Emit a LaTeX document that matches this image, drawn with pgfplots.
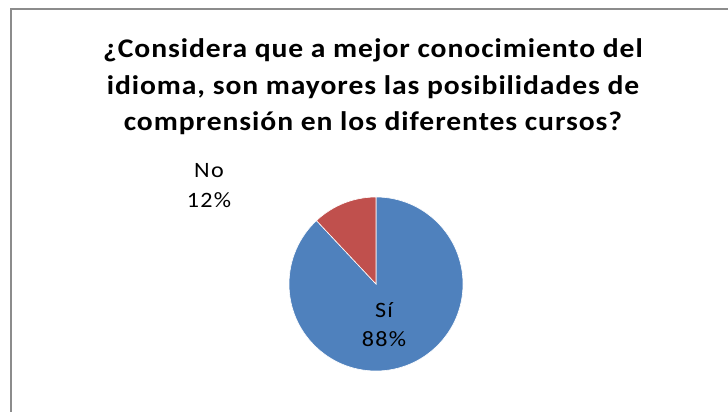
\documentclass[border=0pt]{standalone}
\usepackage{fontspec}
\setmainfont{Carlito}
\newfontfamily\titlefont[FakeStretch=1.1, LetterSpace=3.5]{Carlito}
\newfontfamily\labelfont[FakeStretch=1.1, LetterSpace=6]{Carlito}
\usepackage{pgfplots}
\usepackage{pgfplotstable}
\pgfplotsset{compat=1.18}
\definecolor{siblue}{HTML}{4F81BD}
\definecolor{nored}{HTML}{C0504D}
\definecolor{framegray}{HTML}{8C8C8C}

\pgfplotstableread[col sep=comma]{
label,value
Sí,88
No,12
}\piedata

% slice angles (Excel style: start at 12 o'clock, clockwise)
\pgfplotstablegetelem{0}{value}\of\piedata \let\valSi\pgfplotsretval
\pgfplotstablegetelem{1}{value}\of\piedata \let\valNo\pgfplotsretval
\pgfmathsetmacro\angSi{90-3.6*\valSi}
\pgfmathsetmacro\angNo{\angSi-3.6*\valNo}

\begin{document}
\begin{tikzpicture}
\begin{axis}[
  width=728bp, height=412bp, scale only axis,
  xmin=0, xmax=728, ymin=0, ymax=412,
  hide axis, clip=false,
]
\fill[siblue, draw=white, line width=0.6bp] (axis cs:376,128) -- ++(90:87bp)
  arc[start angle=90, end angle=\angSi, radius=87bp] -- cycle;
\fill[nored, draw=white, line width=0.6bp] (axis cs:376,128) -- ++(\angSi:87bp)
  arc[start angle=\angSi, end angle=\angNo, radius=87bp] -- cycle;

\node[align=center, anchor=base, font=\labelfont\fontsize{22}{30}\selectfont]
  at (axis cs:384,65) {Sí\\88\%};
\node[align=center, anchor=base, font=\labelfont\fontsize{22}{31}\selectfont]
  at (axis cs:209,204) {No\\12\%};

\node[align=center, anchor=base, font=\titlefont\bfseries\fontsize{27}{37}\selectfont]
  at (axis cs:373,281) {¿Considera que a mejor conocimiento del\\
  idioma, son mayores las posibilidades de\\
  comprensión en los diferentes cursos?};

\draw[framegray, line width=2.5bp] (axis cs:11,0) -- (axis cs:11,403) -- (axis cs:728,403);
\end{axis}
\pgfresetboundingbox
\useasboundingbox (0,0) rectangle (728bp,412bp);
\end{tikzpicture}
\end{document}
